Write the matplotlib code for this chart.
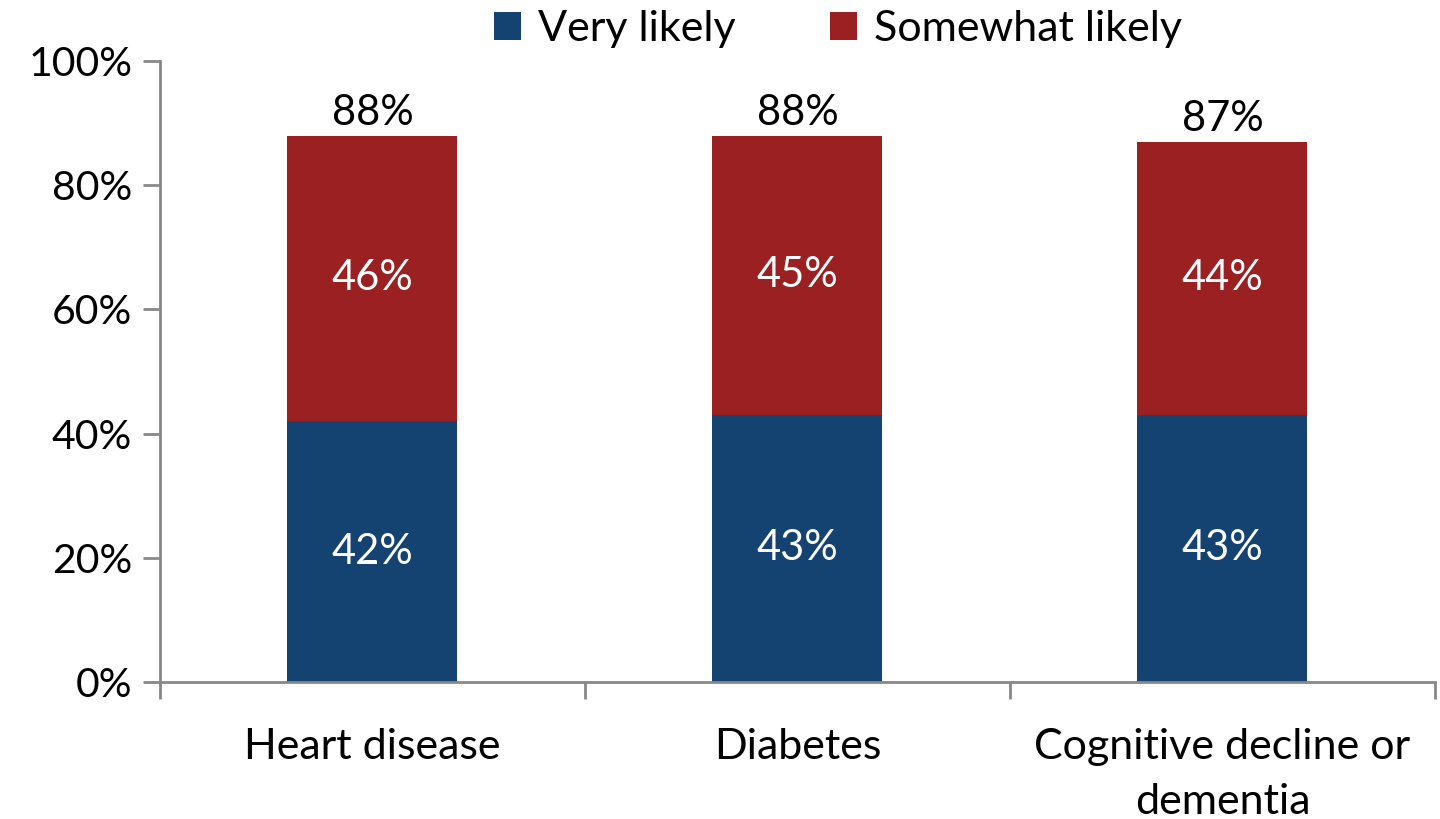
import matplotlib
matplotlib.use("Agg")
import matplotlib.pyplot as plt
import numpy as np
from matplotlib.patches import Patch

categories = ["Heart disease", "Diabetes", "Cognitive decline or\ndementia"]
very_likely = [42, 43, 43]
somewhat_likely = [46, 45, 44]
totals = [88, 88, 87]
series_names = ["Very likely", "Somewhat likely"]
y_ticks = [0, 20, 40, 60, 80, 100]

BLUE = "#144372"
RED = "#9B2022"
AXIS_GRAY = "#888888"

plt.rcParams["font.family"] = ["Lato", "DejaVu Sans"]

fig = plt.figure(figsize=(14.4, 8.19), dpi=100)
ax = fig.add_axes([160 / 1440, 1 - 682 / 819, (1435 - 160) / 1440, (682 - 61) / 819])

x = np.arange(len(categories))
width = 0.4
ax.bar(x, very_likely, width, color=BLUE, label=series_names[0], zorder=2)
ax.bar(x, somewhat_likely, width, bottom=very_likely, color=RED,
       label=series_names[1], zorder=2)

for i in range(len(categories)):
    ax.text(x[i], very_likely[i] / 2, f"{very_likely[i]}%", ha="center", va="center",
            color="white", fontsize=30)
    ax.text(x[i], very_likely[i] + somewhat_likely[i] / 2, f"{somewhat_likely[i]}%",
            ha="center", va="center", color="white", fontsize=30)
    ax.text(x[i], totals[i] + 0.6, f"{totals[i]}%", ha="center", va="bottom",
            color="black", fontsize=30)

ax.set_xlim(-0.5, len(categories) - 0.5)
ax.set_ylim(0, 100)
ax.set_yticks(y_ticks)
ax.set_yticklabels([f"{t}%" for t in y_ticks])

# category boundary ticks on the x axis, labels centred under bars
ax.set_xticks(np.arange(len(categories) + 1) - 0.5)
ax.set_xticklabels([])
ax.set_xticks(x, minor=True)
ax.set_xticklabels(categories, minor=True, fontsize=31, linespacing=1.55)
ax.tick_params(axis="x", which="minor", length=0, pad=33)
ax.tick_params(axis="x", which="major", length=12, width=2, color=AXIS_GRAY, direction="out")
ax.tick_params(axis="y", length=12, width=2, color=AXIS_GRAY, labelsize=29.5, pad=8)

for side in ("top", "right"):
    ax.spines[side].set_visible(False)
for side in ("left", "bottom"):
    ax.spines[side].set_color(AXIS_GRAY)
    ax.spines[side].set_linewidth(2)

handles = [Patch(facecolor=BLUE), Patch(facecolor=RED)]
fig.legend(handles, series_names, loc="center", bbox_to_anchor=(838 / 1440, 1 - 29 / 819),
           ncol=2, frameon=False, fontsize=31, handlelength=0.62, handleheight=0.62,
           handletextpad=0.4, columnspacing=2.2)

fig.savefig("out.png", dpi=100)
